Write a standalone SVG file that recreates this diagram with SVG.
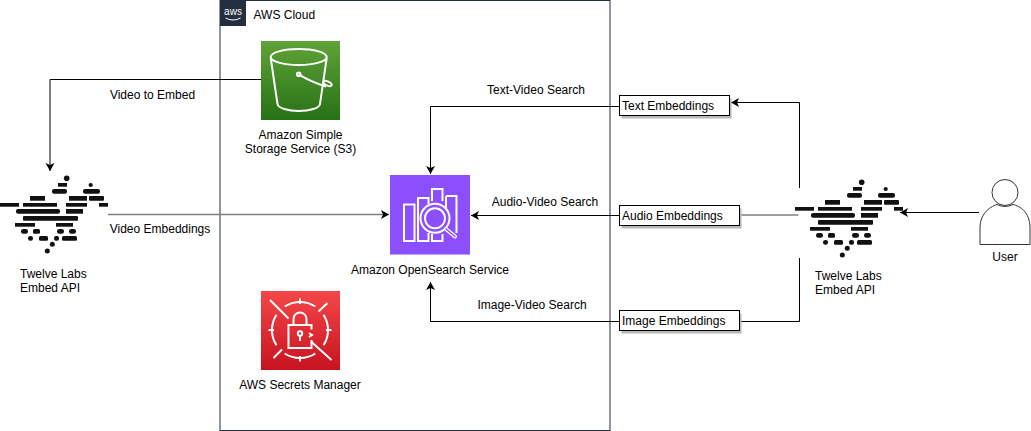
<svg xmlns="http://www.w3.org/2000/svg" width="1031" height="431" viewBox="0 0 1031 431">
<style>
text{font-family:"Liberation Sans",Arial,sans-serif;font-size:12px;fill:#000}
.m{text-anchor:middle}
.c{fill:none;stroke:#000;stroke-width:1}
.g{fill:none;stroke:#808080;stroke-width:1.500}
.w{fill:none;stroke:#fff;stroke-width:2}
.b{fill:#fff;stroke:#000;stroke-width:1}
.s{fill:#b8b8b8}
.t rect{fill:#111}
.t circle{fill:#111}
</style>
<defs>
<marker id="a" markerUnits="userSpaceOnUse" markerWidth="10" markerHeight="10" refX="8" refY="4.500" orient="auto"><path d="M0,0 L8,4.500 L0,9 L2,4.500 Z" fill="#000"/></marker>
<linearGradient id="gs3" x1="0" y1="0" x2="0" y2="1"><stop offset="0" stop-color="#60A337"/><stop offset="1" stop-color="#277116"/></linearGradient>
<linearGradient id="gsm" x1="0" y1="0" x2="0" y2="1"><stop offset="0" stop-color="#F54749"/><stop offset="1" stop-color="#C7131F"/></linearGradient>
<g id="tl" class="t">
<circle cx="66.700" cy="178.300" r="2.800"/>
<rect x="58" y="183" width="9" height="3.700"/><circle cx="90.700" cy="185" r="2.100"/>
<rect x="52" y="189" width="15" height="4.700" rx="2"/><rect x="83" y="189" width="17" height="4.700" rx="2"/>
<rect x="30" y="196" width="15" height="4.700"/><rect x="69" y="196" width="18" height="4.700"/><rect x="89" y="196" width="15" height="4.700" rx="1"/>
<rect x="0" y="203" width="19" height="3.700"/><rect x="23" y="203" width="34" height="3.700"/><rect x="66" y="203" width="21" height="3.700"/><rect x="99" y="203" width="9" height="3.700"/>
<rect x="16" y="209" width="44" height="4.700" rx="2"/><rect x="66" y="209" width="17" height="4.700"/>
<rect x="23" y="216" width="55" height="4.700" rx="1"/>
<rect x="15" y="223" width="20" height="3.700"/><rect x="56" y="223" width="17" height="3.700"/>
<rect x="21" y="229" width="7" height="4.700" rx="2.300"/><rect x="33" y="229" width="7" height="4.700" rx="1.500"/><rect x="57" y="229" width="7" height="4.700" rx="2.300"/><rect x="69" y="229" width="7" height="4.700" rx="2.300"/>
<rect x="28" y="236" width="5" height="4.700" rx="2.300"/><rect x="39" y="236" width="9" height="4.700" rx="1.500"/><rect x="54" y="236" width="5" height="4.700" rx="2"/><rect x="62" y="236" width="15" height="4.700" rx="1.500"/>
<circle cx="52.300" cy="244.300" r="2.500"/><circle cx="47.300" cy="251" r="2.500"/>
</g>
</defs>
<rect width="1031" height="431" fill="#fff"/>
<g id="aws-cloud">
<rect x="220" y="0.500" width="390" height="430" fill="#fff" stroke="#232F3E"/>
<rect x="220" y="0" width="26" height="26" fill="#232F3E"/>
<text x="233" y="15" class="m" style="fill:#fff;font-size:10px">aws</text>
<path d="M225.500,18 Q233,22 240.500,18" fill="none" stroke="#fff" stroke-width="1"/>
<text x="253.500" y="19">AWS Cloud</text>
</g>
<g id="connectors">
<path class="c" d="M261,79.500 H50 V171" marker-end="url(#a)"/>
<path class="g" d="M108,214.500 H389" marker-end="url(#a)"/>
<path class="c" d="M619,106.500 H430.500 V174" marker-end="url(#a)"/>
<path class="c" d="M619,215.500 H471" marker-end="url(#a)"/>
<path class="c" d="M619,321.500 H430.500 V282" marker-end="url(#a)"/>
<path class="c" d="M799.500,188 V102.500 H731" marker-end="url(#a)"/>
<path class="g" d="M798.500,215 H739"/>
<path class="c" d="M799.500,258 V321.500 H740"/>
<path class="c" d="M979,212.500 H900" marker-end="url(#a)"/>
</g>
<g id="edge-labels">
<text x="152.500" y="99" class="m">Video to Embed</text>
<text x="160" y="233" class="m">Video Embeddings</text>
<text x="536" y="94" class="m">Text-Video Search</text>
<text x="545" y="206" class="m">Audio-Video Search</text>
<text x="532" y="309" class="m">Image-Video Search</text>
</g>
<g id="s3">
<rect x="261" y="41" width="79" height="79" fill="url(#gs3)"/>
<ellipse cx="298.700" cy="57" rx="28" ry="8" class="w"/>
<path class="w" d="M270.700,58 L277.500,104 C278,108 288,111 298.700,111 C310,111 319.500,108 320,104 L326.700,58"/>
<path class="w" d="M298.700,74.300 C308,80 318,84 326,86.500"/>
<circle cx="298.700" cy="74.300" r="1.800" class="w"/>
<ellipse cx="327.500" cy="83.500" rx="2" ry="4.500" transform="rotate(-65 327.500 83.500)" class="w"/>
<text x="300.500" y="139" class="m">Amazon Simple</text>
<text x="300.500" y="153" class="m">Storage Service (S3)</text>
</g>
<g id="opensearch">
<rect x="390" y="175" width="80" height="80" fill="#8C4FFF"/>
<rect x="390" y="254" width="80" height="1" fill="#c3a3ff"/>
<path class="w" d="M404,204.500 H414.500 V241 H404 Z"/>
<path class="w" d="M418,212 V198 H428.500 V204 M418,212 V241 H428.500 V233"/>
<path class="w" d="M432,201 V189 H442.500 V201 M432,234 V241 H442.500 V234"/>
<path class="w" d="M446,196 H456.500 V233 M446,208 V196"/>
<circle cx="435" cy="218.300" r="14.500" fill="#8C4FFF" stroke="#fff" stroke-width="2"/>
<circle cx="435" cy="218.300" r="10" class="w"/>
<path d="M446,229 L455,236.500" fill="none" stroke="#fff" stroke-width="4" stroke-linecap="round"/>
<path d="M446,229 L455,236.500" fill="none" stroke="#8C4FFF" stroke-width="1.500" stroke-linecap="round"/>
<text x="430" y="274" class="m">Amazon OpenSearch Service</text>
</g>
<g id="secrets-manager">
<rect x="261" y="291" width="79" height="79" fill="url(#gsm)"/>
<path class="w" d="M284.700,306.500 A28,28 0 0 1 315.300,306.500 M323.500,314.700 A28,28 0 0 1 323.500,345.300 M315.300,353.500 A28,28 0 0 1 284.700,353.500 M276.500,345.300 A28,28 0 0 1 276.500,314.700"/>
<path class="w" d="M300,298.500 V304 M300,356 V361.500 M268.500,330 H274 M326,330 H331.500 M318.500,311.500 L327.500,303 M273.500,358 L282,349.500 M270,300 L288.500,318.500 M311,341.500 L331.500,360"/>
<path class="w" d="M293.500,325 V319 A6.500,6.500 0 0 1 306.500,319 V325"/>
<path class="w" d="M311.500,329.500 V325 H288.500 V348 H311.500 V340"/>
<path class="w" d="M309,333 L312,335 L309,337"/>
<circle cx="300" cy="333.500" r="2.200" class="w"/>
<path class="w" d="M300,336 V341"/>
<text x="300" y="389" class="m">AWS Secrets Manager</text>
</g>
<g id="twelve-labs-left">
<use href="#tl"/>
<text x="20" y="278">Twelve Labs</text>
<text x="20" y="292">Embed API</text>
</g>
<g id="twelve-labs-right">
<use href="#tl" x="795" y="4"/>
<text x="815" y="280">Twelve Labs</text>
<text x="815" y="294">Embed API</text>
</g>
<g id="text-embeddings">
<rect x="621.500" y="98.500" width="110" height="20" class="s"/>
<rect x="619.500" y="95.500" width="110" height="20" class="b"/>
<text x="622" y="110">Text Embeddings</text>
</g>
<g id="audio-embeddings">
<rect x="621.500" y="208.500" width="120" height="20" class="s"/>
<rect x="619.500" y="205.500" width="120" height="20" class="b"/>
<text x="622" y="220">Audio Embeddings</text>
</g>
<g id="image-embeddings">
<rect x="621.500" y="313.500" width="120" height="20" class="s"/>
<rect x="619.500" y="310.500" width="120" height="20" class="b"/>
<text x="622" y="325">Image Embeddings</text>
</g>
<g id="user">
<circle cx="1005" cy="192.500" r="13" fill="#fff" stroke="#333"/>
<path d="M980,244.500 V228 C980,212 992,206 997,204.500 C1002,207 1008,207 1013,204.500 C1020,206 1030,212 1030,228 V244.500 Z" fill="#fff" stroke="#333"/>
<text x="1005" y="261" class="m">User</text>
</g>
</svg>
